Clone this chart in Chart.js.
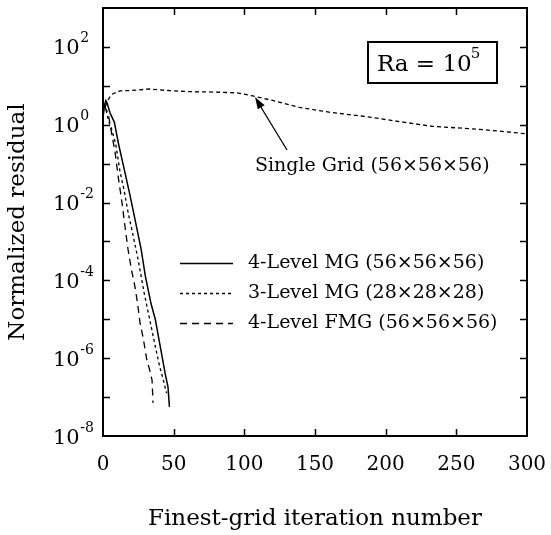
<!DOCTYPE html>
<html><head><meta charset="utf-8">
<script src="https://cdn.jsdelivr.net/npm/chart.js@4"></script>
<style>html,body{margin:0;padding:0;background:#fff;}canvas{display:block;}</style>
</head><body>
<canvas id="c" width="551" height="535"></canvas>
<script>
// ---- data ----
const xTickValues = [0, 50, 100, 150, 200, 250, 300];
const yLabelExponents = [-8, -6, -4, -2, 0, 2];
const yDecadeExponents = [-8, -7, -6, -5, -4, -3, -2, -1, 0, 1, 2, 3];

const singleGridIter = [0, 3, 6, 12, 20, 33, 45, 60, 80, 95, 106, 120, 139, 160, 187, 210, 233, 260, 280, 300];
const singleGridResidual = [2.0, 4.0, 6.0, 7.4, 7.6, 8.3, 7.6, 7.1, 6.9, 6.6, 5.5, 4.2, 2.8, 2.1, 1.6, 1.2, 0.91, 0.79, 0.69, 0.58];

const mg4Iter = [0, 1, 2, 3, 5, 8, 11, 15, 19, 23, 27, 30, 34, 37, 40, 42, 44, 46, 47];
const mg4Residual = [2.0, 3.2, 4.2, 3.5, 2.0, 1.17, 0.32, 0.072, 0.016, 0.0032, 6.3e-4, 1.26e-4, 2.5e-5, 1e-5, 2.5e-6, 1e-6, 4e-7, 1.8e-7, 5.6e-8];

const mg3Iter = [0, 1, 2, 4, 6, 9, 12, 15, 18, 21, 25, 29, 33, 37, 40, 43, 45];
const mg3Residual = [1.26, 3.5, 2.5, 1.26, 0.79, 0.32, 0.063, 0.02, 0.005, 0.0016, 3.2e-4, 5e-5, 1e-5, 2e-6, 6.3e-7, 2.5e-7, 1.26e-7];

const fmgIter = [0, 1, 2, 3.5, 6, 8.5, 11, 13.4, 15.5, 17.7, 20, 22.6, 24.5, 26.2, 28.5, 31, 33, 34.7, 35.4];
const fmgResidual = [1.6, 3.2, 2.5, 2.1, 0.63, 0.2, 0.04, 0.0102, 0.0025, 6.3e-4, 2.0e-4, 6.9e-5, 2.5e-5, 8.1e-6, 3.2e-6, 9.1e-7, 5e-7, 2.75e-7, 7.1e-8];

const legendLabels = ['4-Level MG (56×56×56)', '3-Level MG (28×28×28)', '4-Level FMG (56×56×56)'];
const singleGridLabel = 'Single Grid (56×56×56)';
const raBase = 'Ra = 10';
const raExponent = '5';
const xTitle = 'Finest-grid iteration number';
const yTitle = 'Normalized residual';

const FONT = 'DejaVu Serif';
const pts = (xs, ys) => xs.map((x, i) => ({x: x, y: ys[i]}));

const decoPlugin = {
  id: 'deco',
  afterDraw(chart) {
    const ctx = chart.ctx;
    const a = chart.chartArea;
    const xs = chart.scales.x, ys = chart.scales.y;
    ctx.save();
    ctx.strokeStyle = '#000';
    ctx.fillStyle = '#000';
    // frame
    ctx.lineWidth = 2;
    ctx.strokeRect(a.left, a.top, a.right - a.left, a.bottom - a.top);
    // inward ticks
    ctx.lineWidth = 1.5;
    const tl = 7;
    ctx.beginPath();
    xTickValues.forEach(v => {
      const px = Math.round(xs.getPixelForValue(v)) + 0.5;
      if (v === xs.min || v === xs.max) return;
      ctx.moveTo(px, a.bottom); ctx.lineTo(px, a.bottom - tl);
      ctx.moveTo(px, a.top); ctx.lineTo(px, a.top + tl);
    });
    yDecadeExponents.forEach(e => {
      const py = Math.round(ys.getPixelForValue(Math.pow(10, e))) + 0.5;
      if (e === -8 || e === 3) return;
      ctx.moveTo(a.left, py); ctx.lineTo(a.left + tl, py);
      ctx.moveTo(a.right, py); ctx.lineTo(a.right - tl, py);
    });
    ctx.stroke();
    // y tick labels with superscripts
    yLabelExponents.forEach(e => {
      const py = ys.getPixelForValue(Math.pow(10, e));
      ctx.font = '21px "' + FONT + '"';
      ctx.textAlign = 'left';
      ctx.textBaseline = 'alphabetic';
      ctx.fillText('10', 53, py + 7.5);
      const w = ctx.measureText('10').width;
      ctx.font = '14px "' + FONT + '"';
      ctx.fillText(String(e), 53 + w + 0.5, py - 4.5);
    });
    // legend (inside plot)
    ctx.font = '19px "' + FONT + '"';
    ctx.textBaseline = 'middle';
    const rows = [263, 293, 323];
    [1, 2, 3].forEach((di, i) => {
      const ds = chart.data.datasets[di];
      ctx.save();
      ctx.lineWidth = ds.borderWidth;
      ctx.setLineDash(ds.borderDash || []);
      ctx.beginPath();
      ctx.moveTo(180, rows[i] + 0.5); ctx.lineTo(233, rows[i] + 0.5);
      ctx.stroke();
      ctx.restore();
      ctx.fillText(legendLabels[i], 248, rows[i]);
    });
    // single grid annotation + arrow
    ctx.fillText(singleGridLabel, 255, 166);
    const x0 = 287, y0 = 150, x1 = 255, y1 = 97;
    ctx.lineWidth = 1.3;
    ctx.beginPath(); ctx.moveTo(x0, y0); ctx.lineTo(x1 + 4, y1 + 7); ctx.stroke();
    const ang = Math.atan2(y1 - y0, x1 - x0);
    const L = 12, W = 4;
    ctx.beginPath();
    ctx.moveTo(x1, y1);
    ctx.lineTo(x1 - L * Math.cos(ang) + W * Math.sin(ang), y1 - L * Math.sin(ang) - W * Math.cos(ang));
    ctx.lineTo(x1 - L * Math.cos(ang) - W * Math.sin(ang), y1 - L * Math.sin(ang) + W * Math.cos(ang));
    ctx.closePath(); ctx.fill();
    // Ra box
    ctx.lineWidth = 2;
    ctx.strokeRect(368, 42, 129, 41);
    ctx.font = '23px "' + FONT + '"';
    ctx.textBaseline = 'alphabetic';
    ctx.fillText(raBase, 377, 71);
    const rw = ctx.measureText(raBase).width;
    ctx.font = '15px "' + FONT + '"';
    ctx.fillText(raExponent, 377 + rw - 1, 58);
    ctx.restore();
  }
};

Chart.defaults.font.family = FONT;
Chart.defaults.color = '#000';

new Chart(document.getElementById('c'), {
  type: 'line',
  data: {
    datasets: [
      {label: singleGridLabel, data: pts(singleGridIter, singleGridResidual), borderColor: '#000', borderWidth: 1.3, borderDash: [4, 3], pointRadius: 0, tension: 0},
      {label: legendLabels[0], data: pts(mg4Iter, mg4Residual), borderColor: '#000', borderWidth: 1.5, borderDash: [], pointRadius: 0, tension: 0},
      {label: legendLabels[1], data: pts(mg3Iter, mg3Residual), borderColor: '#000', borderWidth: 1.3, borderDash: [3, 3], pointRadius: 0, tension: 0},
      {label: legendLabels[2], data: pts(fmgIter, fmgResidual), borderColor: '#000', borderWidth: 1.3, borderDash: [7, 5], pointRadius: 0, tension: 0}
    ]
  },
  options: {
    responsive: false,
    animation: false,
    devicePixelRatio: 1,
    layout: {padding: {left: 0, right: 24, top: 8, bottom: 0}},
    plugins: {legend: {display: false}, tooltip: {enabled: false}},
    scales: {
      x: {
        type: 'linear', min: 0, max: 300,
        afterBuildTicks: s => { s.ticks = xTickValues.map(v => ({value: v})); },
        afterFit: s => { s.height = 99; s.paddingLeft = 0; s.paddingRight = 0; },
        grid: {display: false, drawTicks: false},
        border: {display: false},
        ticks: {font: {size: 20, family: FONT}, color: '#000', padding: 17, maxRotation: 0},
        title: {display: true, text: xTitle, font: {size: 23, family: FONT}, color: '#000', padding: {top: 0, bottom: 2}}
      },
      y: {
        type: 'logarithmic', min: 1e-8, max: 1e3,
        afterBuildTicks: s => { s.ticks = yDecadeExponents.map(e => ({value: Math.pow(10, e)})); },
        afterFit: s => { s.width = 103; s.paddingTop = 0; s.paddingBottom = 0; },
        grid: {display: false, drawTicks: false},
        border: {display: false},
        ticks: {callback: () => '', font: {size: 19, family: FONT}},
        title: {display: true, text: yTitle, font: {size: 23, family: FONT}, color: '#000', padding: {top: 4, bottom: 0}}
      }
    }
  },
  plugins: [decoPlugin]
});
</script>
</body></html>
